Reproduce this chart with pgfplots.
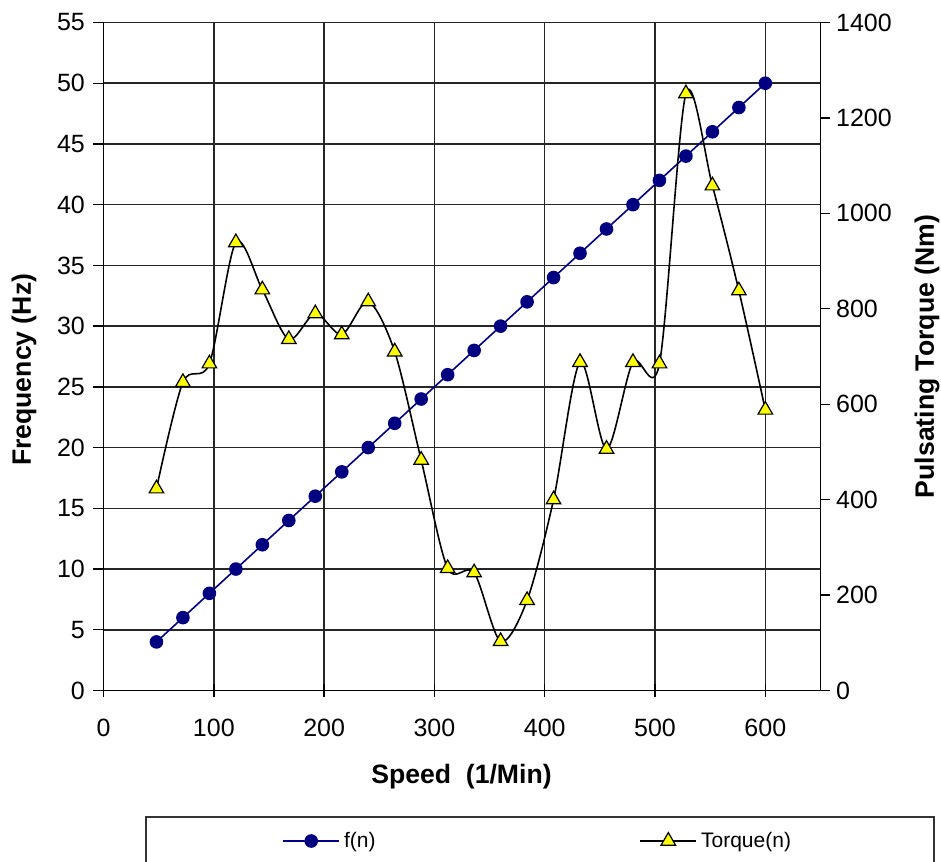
\documentclass[border=0pt]{standalone}
\usepackage{pgfplots}
\pgfplotsset{compat=1.18}
\usepackage{fontspec}
\setmainfont{Liberation Sans}
\definecolor{navyblue}{RGB}{0,0,128}
\definecolor{mkyellow}{RGB}{255,255,0}
\begin{document}
\begin{tikzpicture}
\path[use as bounding box] (-51.75pt,-85.25pt) rectangle (418.75pt,345.25pt);
\pgfplotsset{
  common/.style={
    at={(0,0)}, anchor=south west, scale only axis,
    width=358.5pt, height=334pt,
    xmin=0, xmax=650,
    /pgf/number format/assume math mode=true,
    /pgf/number format/1000 sep={},
    ticklabel style={font=\fontsize{12.5}{14}\selectfont},
    label style={font=\fontsize{13.3}{15}\bfseries},
    axis line style={-, black, line width=0.9pt},
  },
}
\begin{axis}[common,
  ymin=0, ymax=55,
  axis x line*=bottom, axis y line*=left,
  xtick={0,100,...,600}, ytick={0,5,...,55},
  xtick align=center, ytick align=outside,
  xtick style={black, line width=0.7pt, /pgfplots/major tick length=6.5pt},
  ytick style={black, line width=0.7pt, /pgfplots/major tick length=5pt},
  xticklabel style={yshift=-8.5pt},
  yticklabel style={xshift=-1.5pt},
  grid=major, major grid style={black!85, line width=0.75pt},
  xlabel={Speed\ \ (1/Min)}, ylabel={Frequency (Hz)},
  xlabel style={at={(axis description cs:0.4993,-0.1295)}, anchor=center},
  ylabel style={at={(axis description cs:-0.1109,0.48)}, anchor=center},
]
\addplot[navyblue, line width=0.8pt, mark=*, mark size=3pt, mark options={fill=navyblue, draw=navyblue}]
coordinates {
(48,4) (72,6) (96,8) (120,10) (144,12) (168,14) (192,16) (216,18)
(240,20) (264,22) (288,24) (312,26) (336,28) (360,30) (384,32) (408,34)
(432,36) (456,38) (480,40) (504,42) (528,44) (552,46) (576,48) (600,50)
};
\end{axis}
\begin{axis}[common,
  ymin=0, ymax=1400,
  axis x line=none, axis y line*=right,
  ytick={0,200,...,1400},
  ytick align=outside,
  ytick style={black, line width=0.7pt, /pgfplots/major tick length=4.5pt},
  ylabel={Pulsating Torque (Nm)},
  ylabel style={at={(axis description cs:1.1485,0.5)}, anchor=center, rotate=0},
  legend columns=2,
  legend style={at={(axis description cs:0.249,-0.2253)}, anchor=west,
    draw=none, fill=none, inner sep=0pt,
    font=\fontsize{10.5}{12}\selectfont,
    nodes={inner sep=2pt},
    /tikz/every even column/.append style={column sep=130pt}},
  legend image code/.code={\draw[mark repeat=2,mark phase=2,#1] plot coordinates {(0pt,0pt) (14pt,0pt) (28pt,0pt)};},
]
\addlegendimage{navyblue, line width=0.8pt, mark=*, mark size=3pt, mark options={fill=navyblue, draw=navyblue}}
\addlegendentry{f(n)}
\addplot[black, line width=0.8pt, smooth, mark=triangle*, mark size=4.2pt, mark options={fill=mkyellow, draw=black, line width=0.6pt}]
coordinates {
(48,423) (72,646) (96,685) (120,939) (144,840) (168,736) (192,790) (216,746)
(240,815) (264,710) (288,483) (312,256) (336,247) (360,103) (384,189) (408,400)
(432,688) (456,506) (480,688) (504,685) (528,1251) (552,1058) (576,838) (600,588)
};
\addlegendentry{Torque(n)}
\end{axis}
\draw[black!80, line width=0.7pt] (21.25pt,-63.25pt) rectangle (415.25pt,-100pt);
\end{tikzpicture}
\end{document}
